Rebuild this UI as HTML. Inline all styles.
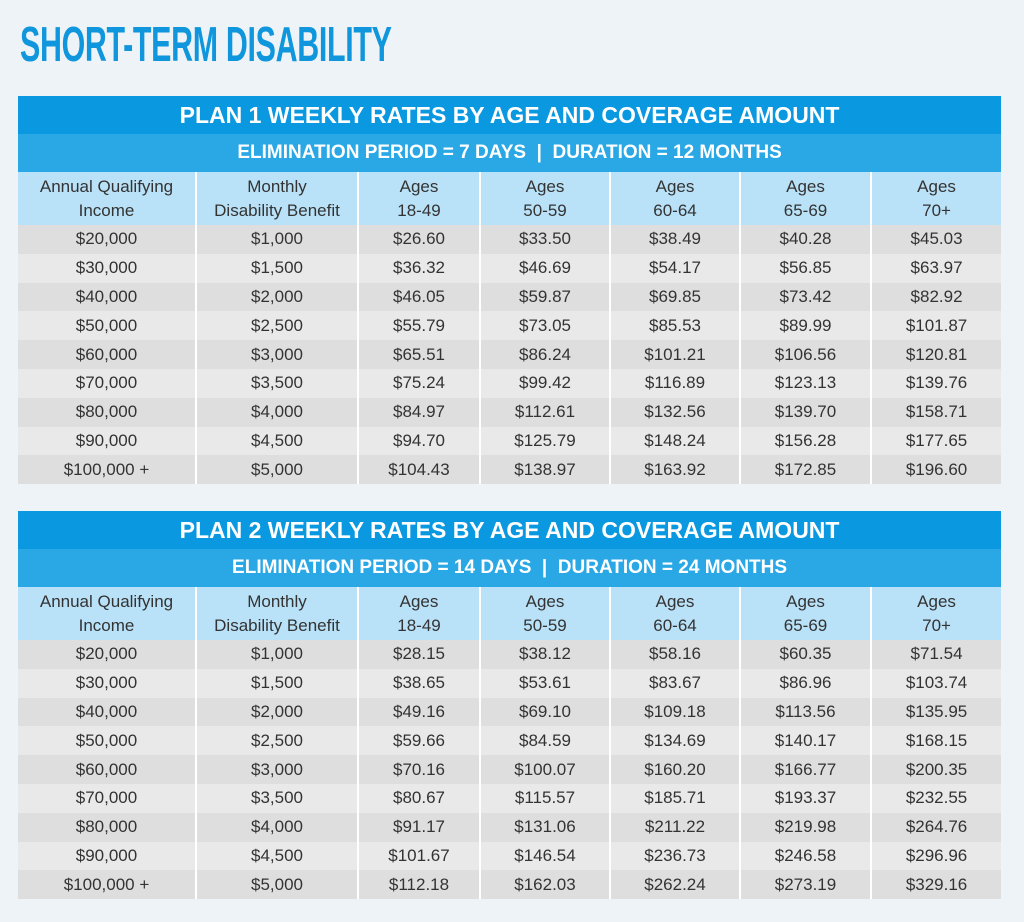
<!DOCTYPE html>
<html><head><style>
body{margin:0;width:1024px;height:922px;background:#eef3f7;font-family:"Liberation Sans",sans-serif;position:relative;overflow:hidden}
h1{position:absolute;left:20px;top:20px;margin:0;font-size:49px;line-height:50px;color:#0f96dc;font-weight:bold;transform:scaleX(0.62);transform-origin:left top;letter-spacing:-0.5px}
table{position:absolute;left:18px;width:983px;border-collapse:collapse;table-layout:fixed}
td{padding:0;text-align:center;color:#333;font-size:17px;border-left:2px solid #fff;border-right:2px solid #fff}
td:first-child{border-left:none}td:last-child{border-right:none}
.t td{background:#0a98e0;color:#fff;font-weight:bold;font-size:23px;height:38px;border:none}
.s td{background:#2aa8e6;color:#fff;font-weight:bold;font-size:19px;height:38px;border:none}
.h td{background:#b9e1f7;height:53px;line-height:24px}
.r td{height:28.8px}
.r:nth-child(odd) td{background:#dedede}
.r:nth-child(even) td{background:#e9e9e9}
</style></head><body>
<h1>SHORT-TERM DISABILITY</h1>
<table style="top:96px">
<colgroup><col style="width:178px"><col style="width:162px"><col style="width:122px"><col style="width:130px"><col style="width:130px"><col style="width:131px"><col style="width:130px"></colgroup>
<tr class="t"><td colspan="7">PLAN 1 WEEKLY RATES BY AGE AND COVERAGE AMOUNT</td></tr>
<tr class="s"><td colspan="7">ELIMINATION PERIOD = 7 DAYS &nbsp;|&nbsp; DURATION = 12 MONTHS</td></tr>
<tr class="h"><td>Annual Qualifying<br>Income</td><td>Monthly<br>Disability Benefit</td><td>Ages<br>18-49</td><td>Ages<br>50-59</td><td>Ages<br>60-64</td><td>Ages<br>65-69</td><td>Ages<br>70+</td></tr>
<tbody>
<tr class="r"><td>$20,000</td><td>$1,000</td><td>$26.60</td><td>$33.50</td><td>$38.49</td><td>$40.28</td><td>$45.03</td></tr>
<tr class="r"><td>$30,000</td><td>$1,500</td><td>$36.32</td><td>$46.69</td><td>$54.17</td><td>$56.85</td><td>$63.97</td></tr>
<tr class="r"><td>$40,000</td><td>$2,000</td><td>$46.05</td><td>$59.87</td><td>$69.85</td><td>$73.42</td><td>$82.92</td></tr>
<tr class="r"><td>$50,000</td><td>$2,500</td><td>$55.79</td><td>$73.05</td><td>$85.53</td><td>$89.99</td><td>$101.87</td></tr>
<tr class="r"><td>$60,000</td><td>$3,000</td><td>$65.51</td><td>$86.24</td><td>$101.21</td><td>$106.56</td><td>$120.81</td></tr>
<tr class="r"><td>$70,000</td><td>$3,500</td><td>$75.24</td><td>$99.42</td><td>$116.89</td><td>$123.13</td><td>$139.76</td></tr>
<tr class="r"><td>$80,000</td><td>$4,000</td><td>$84.97</td><td>$112.61</td><td>$132.56</td><td>$139.70</td><td>$158.71</td></tr>
<tr class="r"><td>$90,000</td><td>$4,500</td><td>$94.70</td><td>$125.79</td><td>$148.24</td><td>$156.28</td><td>$177.65</td></tr>
<tr class="r"><td>$100,000 +</td><td>$5,000</td><td>$104.43</td><td>$138.97</td><td>$163.92</td><td>$172.85</td><td>$196.60</td></tr>
</tbody></table>
<table style="top:511px">
<colgroup><col style="width:178px"><col style="width:162px"><col style="width:122px"><col style="width:130px"><col style="width:130px"><col style="width:131px"><col style="width:130px"></colgroup>
<tr class="t"><td colspan="7">PLAN 2 WEEKLY RATES BY AGE AND COVERAGE AMOUNT</td></tr>
<tr class="s"><td colspan="7">ELIMINATION PERIOD = 14 DAYS &nbsp;|&nbsp; DURATION = 24 MONTHS</td></tr>
<tr class="h"><td>Annual Qualifying<br>Income</td><td>Monthly<br>Disability Benefit</td><td>Ages<br>18-49</td><td>Ages<br>50-59</td><td>Ages<br>60-64</td><td>Ages<br>65-69</td><td>Ages<br>70+</td></tr>
<tbody>
<tr class="r"><td>$20,000</td><td>$1,000</td><td>$28.15</td><td>$38.12</td><td>$58.16</td><td>$60.35</td><td>$71.54</td></tr>
<tr class="r"><td>$30,000</td><td>$1,500</td><td>$38.65</td><td>$53.61</td><td>$83.67</td><td>$86.96</td><td>$103.74</td></tr>
<tr class="r"><td>$40,000</td><td>$2,000</td><td>$49.16</td><td>$69.10</td><td>$109.18</td><td>$113.56</td><td>$135.95</td></tr>
<tr class="r"><td>$50,000</td><td>$2,500</td><td>$59.66</td><td>$84.59</td><td>$134.69</td><td>$140.17</td><td>$168.15</td></tr>
<tr class="r"><td>$60,000</td><td>$3,000</td><td>$70.16</td><td>$100.07</td><td>$160.20</td><td>$166.77</td><td>$200.35</td></tr>
<tr class="r"><td>$70,000</td><td>$3,500</td><td>$80.67</td><td>$115.57</td><td>$185.71</td><td>$193.37</td><td>$232.55</td></tr>
<tr class="r"><td>$80,000</td><td>$4,000</td><td>$91.17</td><td>$131.06</td><td>$211.22</td><td>$219.98</td><td>$264.76</td></tr>
<tr class="r"><td>$90,000</td><td>$4,500</td><td>$101.67</td><td>$146.54</td><td>$236.73</td><td>$246.58</td><td>$296.96</td></tr>
<tr class="r"><td>$100,000 +</td><td>$5,000</td><td>$112.18</td><td>$162.03</td><td>$262.24</td><td>$273.19</td><td>$329.16</td></tr>
</tbody></table>
</body></html>
